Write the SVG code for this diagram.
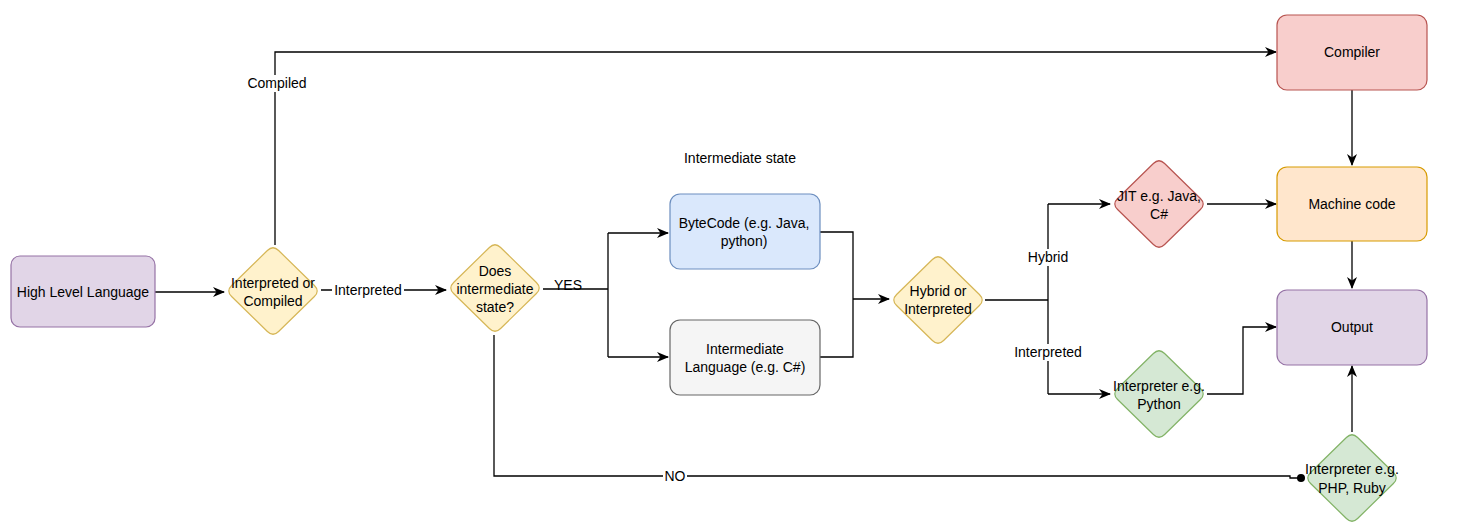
<svg xmlns="http://www.w3.org/2000/svg" xmlns:xlink="http://www.w3.org/1999/xlink" width="1470" height="532" viewBox="0 0 1470 532">
<style>
text{font-family:"Liberation Sans",Arial,sans-serif;font-size:14px;fill:#000;text-anchor:middle}
.c{fill:none;stroke:#000;stroke-width:1.3}
.lbg{fill:#fff}
.box{stroke-width:1.2}
.purple{fill:#e1d5e7;stroke:#9673a6}
.yellow{fill:#fff2cc;stroke:#d6b656}
.blue{fill:#dae8fc;stroke:#6c8ebf}
.gray{fill:#f5f5f5;stroke:#666666}
.red{fill:#f8cecc;stroke:#b85450}
.green{fill:#d5e8d4;stroke:#82b366}
.orange{fill:#ffe6cc;stroke:#d79b00}
</style>
<defs>
<marker id="arr" viewBox="0 0 12 10" refX="11" refY="5" markerWidth="12" markerHeight="10" markerUnits="userSpaceOnUse" orient="auto">
<path d="M0,0 L12,5 L0,10 L3.5,5 Z" fill="#000"/>
</marker>
<path id="dia" d="M -5.6,-40.5 Q 0,-46 5.6,-40.5 L 41.4,-5.5 Q 47,0 41.4,5.5 L 5.6,40.5 Q 0,46 -5.6,40.5 L -41.4,5.5 Q -47,0 -41.4,-5.5 Z" stroke-width="1.2"/>
</defs>
<rect width="1470" height="532" fill="#fff"/>

<g id="connectors">
<path class="c" d="M155,292 H224" marker-end="url(#arr)"/>
<path class="c" d="M275,245 V52 H1276" marker-end="url(#arr)"/>
<rect class="lbg" x="246" y="75" width="62" height="17"/>
<text x="277" y="88">Compiled</text>
<path class="c" d="M321,290 H446" marker-end="url(#arr)"/>
<rect class="lbg" x="332" y="282" width="72" height="17"/>
<text x="368" y="295">Interpreted</text>
<path class="c" d="M543,289 H608 M608,289 V233 M608,289 V357"/>
<path class="c" d="M608,233 H668" marker-end="url(#arr)"/>
<path class="c" d="M608,357 H668" marker-end="url(#arr)"/>
<text x="568" y="290">YES</text>
<path class="c" d="M820,232 H853 V357 H820"/>
<path class="c" d="M853,299 H889" marker-end="url(#arr)"/>
<path class="c" d="M985,300 H1048 M1048,204 V394"/>
<path class="c" d="M1048,204 H1110" marker-end="url(#arr)"/>
<path class="c" d="M1048,394 H1110" marker-end="url(#arr)"/>
<rect class="lbg" x="1025" y="249" width="46" height="17"/>
<text x="1048" y="262">Hybrid</text>
<rect class="lbg" x="1011" y="344" width="74" height="17"/>
<text x="1048" y="357">Interpreted</text>
<path class="c" d="M1207,204 H1276" marker-end="url(#arr)"/>
<path class="c" d="M1207,394 H1243 V327 H1276" marker-end="url(#arr)"/>
<path class="c" d="M1352,89 V165" marker-end="url(#arr)"/>
<path class="c" d="M1352,241 V288" marker-end="url(#arr)"/>
<path class="c" d="M1352,432 V366" marker-end="url(#arr)"/>
<path class="c" d="M494,335 V476 H1290 V478 H1298"/>
<circle cx="1301" cy="478" r="4" fill="#000"/>
<rect class="lbg" x="663" y="468" width="24" height="17"/>
<text x="675" y="481">NO</text>
</g>

<g id="high-level-language">
<rect class="box purple" x="11" y="256" width="144" height="71" rx="9"/>
<text x="83" y="297">High Level Language</text>
</g>
<g id="interpreted-or-compiled">
<use xlink:href="#dia" href="#dia" x="273" y="291" class="yellow"/>
<text x="273" y="288">Interpreted or</text>
<text x="273" y="306">Compiled</text>
</g>
<g id="does-intermediate-state">
<use xlink:href="#dia" href="#dia" x="495" y="288" class="yellow"/>
<text x="495" y="276">Does</text>
<text x="495" y="294">intermediate</text>
<text x="495" y="312">state?</text>
</g>
<g id="intermediate-state-label">
<text x="740" y="163">Intermediate state</text>
</g>
<g id="bytecode">
<rect class="box blue" x="670" y="194" width="150" height="75" rx="10"/>
<text x="744" y="228">ByteCode (e.g. Java,</text>
<text x="744" y="246">python)</text>
</g>
<g id="intermediate-language">
<rect class="box gray" x="670" y="320" width="150" height="75" rx="10"/>
<text x="745" y="354">Intermediate</text>
<text x="745" y="372">Language (e.g. C#)</text>
</g>
<g id="hybrid-or-interpreted">
<use xlink:href="#dia" href="#dia" x="938" y="300" class="yellow"/>
<text x="938" y="296">Hybrid or</text>
<text x="938" y="314">Interpreted</text>
</g>
<g id="jit">
<use xlink:href="#dia" href="#dia" x="1159" y="204" class="red"/>
<text x="1159" y="201">JIT e.g. Java,</text>
<text x="1159" y="219">C#</text>
</g>
<g id="interpreter-python">
<use xlink:href="#dia" href="#dia" x="1159" y="394" class="green"/>
<text x="1159" y="391">Interpreter e.g.</text>
<text x="1159" y="409">Python</text>
</g>
<g id="compiler">
<rect class="box red" x="1277" y="15" width="150" height="75" rx="10"/>
<text x="1352" y="57">Compiler</text>
</g>
<g id="machine-code">
<rect class="box orange" x="1277" y="167" width="150" height="74" rx="10"/>
<text x="1352" y="209">Machine code</text>
</g>
<g id="output">
<rect class="box purple" x="1277" y="290" width="150" height="75" rx="10"/>
<text x="1352" y="332">Output</text>
</g>
<g id="interpreter-php">
<use xlink:href="#dia" href="#dia" x="1352" y="478" class="green"/>
<text x="1352" y="474" textLength="94" lengthAdjust="spacingAndGlyphs">Interpreter e.g.</text>
<text x="1352" y="493">PHP, Ruby</text>
</g>
</svg>
